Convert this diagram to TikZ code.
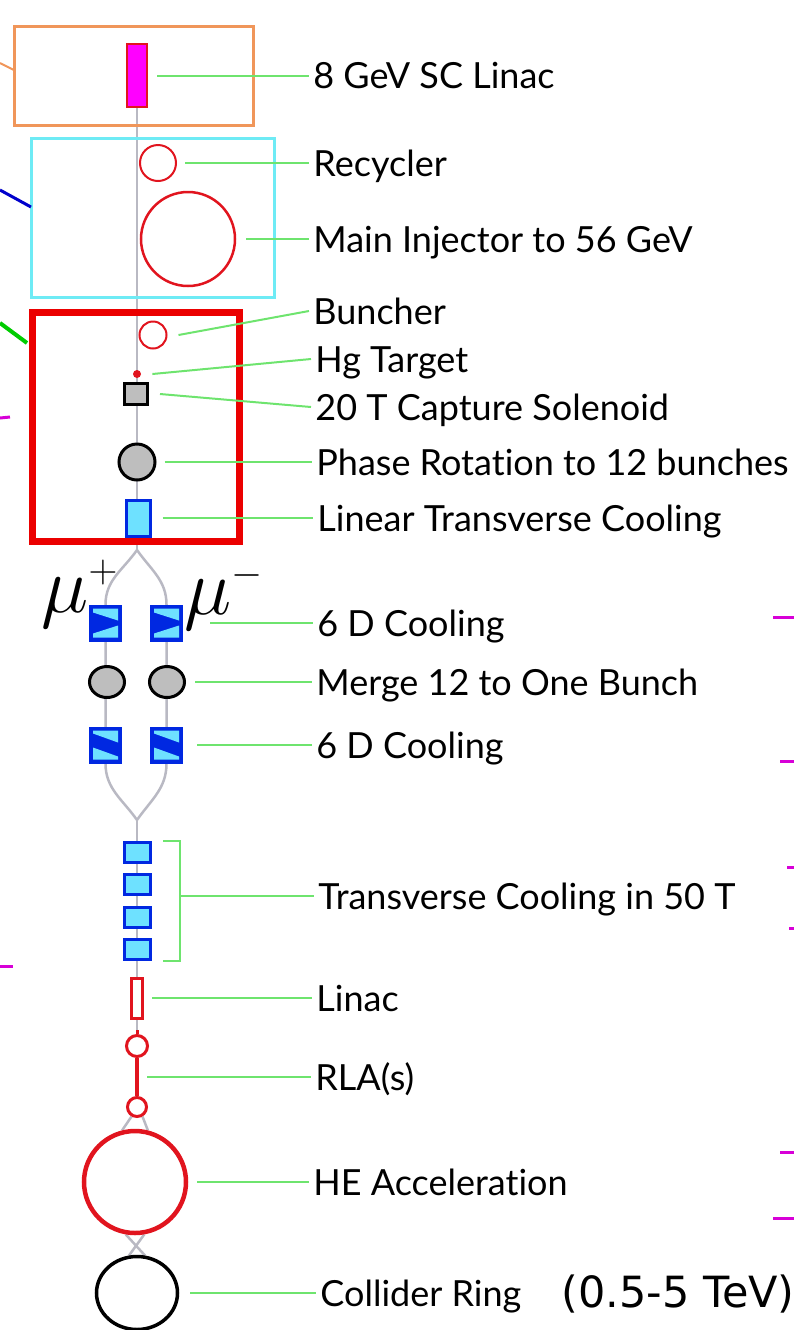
\RequirePackage{fix-cm}
\documentclass[tikz,border=0pt]{standalone}
\usepackage{fontspec}
\setmainfont{Lato}[Ligatures=NoCommon]
\newfontfamily\tevfont{DejaVu Sans}
\usetikzlibrary{calc,backgrounds,shapes.geometric}

\definecolor{mcOrange}{RGB}{240,150,90}
\definecolor{mcCyan}{RGB}{110,235,245}
\definecolor{mcFrameRed}{RGB}{235,0,0}
\definecolor{mcRed}{RGB}{225,20,30}
\definecolor{mcMagenta}{RGB}{255,0,255}
\definecolor{mcBeam}{RGB}{185,185,195}
\definecolor{mcGreen}{RGB}{110,228,110}
\definecolor{mcBlue}{RGB}{0,40,225}
\definecolor{mcIce}{RGB}{110,225,255}
\definecolor{mcGrey}{RGB}{190,190,190}
\definecolor{mcPink}{RGB}{215,0,215}

% wedge absorbers inside the 6D cooling cells
\newcommand{\coolwedgesA}[1]{%
  \fill[mcIce] ([shift={(4,4)}]#1.north west) -- ([shift={(-4,4)}]#1.north east)
    -- ([shift={(-4,16)}]#1.north east) -- ([shift={(4,8)}]#1.north west) -- cycle;
  \fill[mcIce] ([shift={(4,-4)}]#1.south west) -- ([shift={(-4,-4)}]#1.south east)
    -- ([shift={(-4,-16)}]#1.south east) -- ([shift={(4,-8)}]#1.south west) -- cycle;}
\newcommand{\coolwedgesB}[1]{%
  \fill[mcIce] ([shift={(4,4)}]#1.north west) -- ([shift={(-4,4)}]#1.north east)
    -- ([shift={(-4,16)}]#1.north east) -- ([shift={(4,7)}]#1.north west) -- cycle;
  \fill[mcIce] ([shift={(4,-4)}]#1.south west) -- ([shift={(-4,-4)}]#1.south east)
    -- ([shift={(-4,-7)}]#1.south east) -- ([shift={(4,-16)}]#1.south west) -- cycle;}

\begin{document}
\begin{tikzpicture}[
  comp/.style={inner sep=0pt, line width=2*\px},
  ring/.style={comp, circle, draw=mcRed},
  greybody/.style={comp, draw=black, fill=mcGrey, line width=3*\px},
  ice/.style={comp, rectangle, draw=mcBlue, fill=mcIce, line width=3*\px},
  coolbox/.style={comp, rectangle, draw=mcBlue, fill=mcBlue, line width=3*\px,
    minimum width=30*\px, minimum height=34*\px},
  beam/.style={draw=mcBeam, line width=2.5*\px},
  leader/.style={draw=mcGreen, line width=2*\px},
  lbl/.style={anchor=west, inner xsep=4*\px, inner ysep=0pt, text height=26*\px,
    text depth=0pt, font=\fontsize{18}{20}\selectfont},
  muon/.style={inner sep=0pt, font=\fontsize{40}{40}\selectfont},
  edgemark/.style={line width=3*\px}
]
% one unit is one pixel of the 794 x 1330 sheet, y runs downwards
\def\px{0.5pt}
\begin{scope}[x=\px, y=-\px]
  \useasboundingbox (0,0) rectangle (794,1330);

  % Frames
  \draw[mcOrange, line width=3*\px] (14,26) rectangle (253,125);
  \draw[mcCyan, line width=3*\px] (31,138) rectangle (274,297);
  \draw[mcFrameRed, line width=7*\px] (32.5,312.5) rectangle (239.5,541.5);

  % Cut-off marks at the sheet edges
  \draw[mcOrange, line width=2*\px] (0,63) -- (14,70);
  \draw[blue!80!black, edgemark] (0,190) -- (31,207);
  \draw[green!80!black, line width=4*\px] (0,323) -- (27,343);
  \draw[mcPink, edgemark] (0,418) -- (10,417);
  \draw[mcPink, edgemark] (0,966) -- (13,966);
  \draw[mcPink, edgemark] (773,617) -- (794,617);
  \draw[mcPink, edgemark] (780,761) -- (794,761);
  \draw[mcPink, edgemark] (787,867) -- (794,867);
  \draw[mcPink, edgemark] (789,928) -- (794,928);
  \draw[mcPink, edgemark] (780,1152) -- (794,1152);
  \draw[mcPink, edgemark] (773,1218) -- (794,1218);

  % Proton driver and front end
  \node[comp, rectangle, draw=mcRed, fill=mcMagenta, minimum width=20*\px, minimum height=63*\px] (linac) at (137,75.5) {};
  \node[ring, minimum size=36*\px] (recycler) at (158,163) {};
  \node[ring, line width=2.5*\px, minimum size=94*\px] (mi) at (188,239) {};
  \node[ring, minimum size=27*\px] (buncher) at (153,335) {};
  \node[circle, fill=mcRed, inner sep=0pt, minimum size=8*\px] (target) at (137,374) {};
  \node[greybody, rectangle, minimum width=23*\px, minimum height=21*\px] (capture) at (136,394) {};
  \node[greybody, circle, minimum size=36*\px] (phase) at (137,462) {};
  \node[ice, minimum width=24*\px, minimum height=36*\px] (ltc) at (138,518) {};
  \coordinate (split) at (137,550);

  % Two muon lines
  \node[coolbox] (coolAp) at (105.5,623) {};
  \node[coolbox] (coolAm) at (166.5,623) {};
  \node[greybody, ellipse, minimum width=35*\px, minimum height=31*\px] (mergep) at (107,682) {};
  \node[greybody, ellipse, minimum width=35*\px, minimum height=31*\px] (mergem) at (167,682) {};
  \node[coolbox] (coolBp) at (105.5,745) {};
  \node[coolbox] (coolBm) at (166.5,745) {};
  \coolwedgesA{coolAp}
  \coolwedgesA{coolAm}
  \coolwedgesB{coolBp}
  \coolwedgesB{coolBm}
  \node[muon] (muplus) at (80,594) {$\mu^{\scriptscriptstyle +}$};
  \node[muon] (muminus) at (224,596) {$\mu^{\scriptscriptstyle -}$};
  \coordinate (join) at (137,820);

  % Final cooling and acceleration
  \foreach \i/\y in {1/852,2/884,3/917,4/949}
    \node[ice, minimum width=26*\px, minimum height=20*\px] (tc\i) at (137.5,\y) {};
  \node[comp, rectangle, draw=mcRed, fill=white, line width=3*\px, minimum width=11*\px, minimum height=40*\px] (linacB) at (137,998) {};
  \node[ring, line width=3*\px, minimum size=21*\px] (rla1) at (137,1046) {};
  \node[ring, line width=3*\px, minimum size=19*\px] (rla2) at (137,1107) {};
  \draw[mcRed, line width=3.5*\px] (rla1.south) -- (rla2.north);
  \draw[mcRed, line width=3*\px] (rla1.north) -- ++(0,-4);
  \node[ring, line width=4.5*\px, minimum size=102*\px] (he) at (135,1182) {};
  \node[comp, ellipse, draw=black, line width=3.5*\px, minimum width=81*\px, minimum height=73*\px] (collider) at (137,1293) {};

  % Beam line behind the elements
  \begin{scope}[on background layer]
    \draw[beam] (linac.south) -- (split);
    \draw[beam] (split) to[out=-125, in=90] (coolAp.north) -- (coolBp.south) to[out=-90, in=125] (join);
    \draw[beam] (split) to[out=-55, in=90] (coolAm.north) -- (coolBm.south) to[out=-90, in=55] (join);
    \draw[beam] (join) -- (rla1.north);
    \draw[beam] (rla2.-120) -- (he.104);
    \draw[beam] (rla2.-60) -- (he.76);
    \draw[beam] (he.-100) -- (collider.78);
    \draw[beam] (he.-80) -- (collider.102);
  \end{scope}

  % Labels
  \node[lbl] (tLinac) at (309,75.5) {8 GeV SC Linac};
  \node[lbl] (tRecycler) at (309,163) {Recycler};
  \node[lbl] (tMI) at (309,239) {Main Injector to 56 GeV};
  \node[lbl] (tBuncher) at (309,311) {Buncher};
  \node[lbl] (tTarget) at (311,359) {Hg Target};
  \node[lbl] (tCapture) at (311,407) {20 T Capture Solenoid};
  \node[lbl] (tPhase) at (312,462) {Phase Rotation to 12 bunches};
  \node[lbl] (tLTC) at (313,518) {Linear Transverse Cooling};
  \node[lbl] (tCoolA) at (313,623) {6 D Cooling};
  \node[lbl] (tMerge) at (312,682) {Merge 12 to One Bunch};
  \node[lbl] (tCoolB) at (312,745) {6 D Cooling};
  \node[lbl] (tTC) at (314,896) {Transverse Cooling in 50 T};
  \node[lbl] (tLinacB) at (312,998) {Linac};
  \node[lbl] (tRLA) at (311,1077) {RLA(s)};
  \node[lbl] (tHE) at (309,1182) {HE Acceleration};
  \node[lbl] (tCollider) at (316,1293) {Collider Ring};
  \node[lbl, text height=29*\px, font={\tevfont\fontsize{21.5}{25}\selectfont}] (tEnergy) at (557,1293) {(0.5-5 TeV)};

  % Leaders
  \draw[leader] ([xshift=9*\px]linac.east) -- (tLinac.west);
  \draw[leader] ([xshift=8*\px]recycler.east) -- (tRecycler.west);
  \draw[leader] ([xshift=10*\px]mi.east) -- (tMI.west);
  \draw[leader] ([xshift=11*\px]buncher.east) -- (tBuncher.west);
  \draw[leader] ([xshift=11*\px]target.east) -- (tTarget.west);
  \draw[leader] ([xshift=11*\px]capture.east) -- (tCapture.west);
  \draw[leader] ([xshift=8*\px]phase.east) -- (tPhase.west);
  \draw[leader] ([xshift=11*\px]ltc.east) -- (tLTC.west);
  \draw[leader] ([xshift=27*\px]coolAm.east) -- (tCoolA.west);
  \draw[leader] ([xshift=9*\px]mergem.east) -- (tMerge.west);
  \draw[leader] ([xshift=14*\px]coolBm.east) -- (tCoolB.west);
  \coordinate (tcbrk) at ([xshift=28*\px]tc1.north east);
  \draw[leader] ([xshift=11*\px]tc1.north east) -- (tcbrk) |- ([xshift=11*\px]tc4.south east);
  \draw[leader] (tTC.west -| tcbrk) -- (tTC.west);
  \draw[leader] ([xshift=8*\px]linacB.east) -- (tLinacB.west);
  \coordinate (rlamid) at ($(rla1.south)!0.5!(rla2.north)$);
  \draw[leader] ([xshift=10*\px]rlamid) -- (tRLA.west);
  \draw[leader] ([xshift=9*\px]he.east) -- (tHE.west);
  \draw[leader] ([xshift=11*\px]collider.east) -- (tCollider.west);
\end{scope}
\end{tikzpicture}
\end{document}
